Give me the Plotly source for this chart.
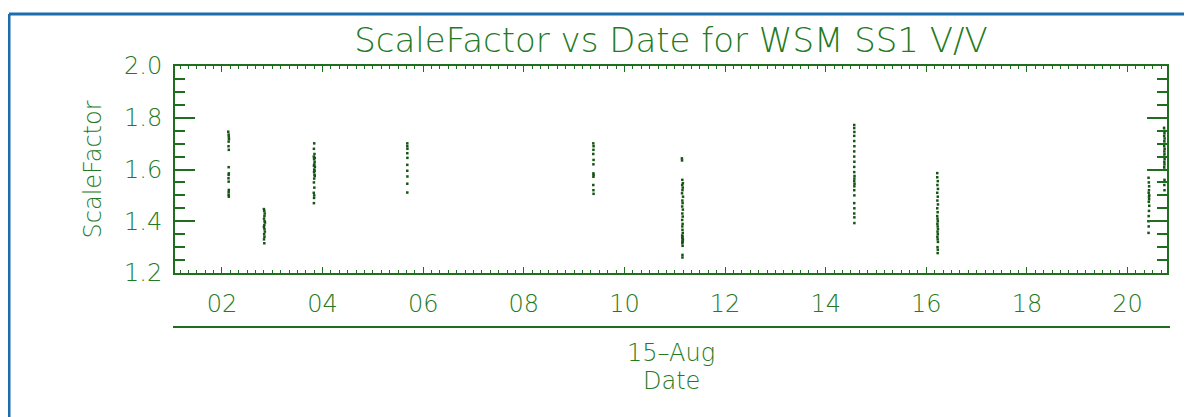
import plotly.graph_objects as go

DAY = "2002-08-15 "

# ---- data (time of day, scale factor) ----
a_times = ["02:07:30", "02:08:00", "02:08:10", "02:08:20", "02:08:00", "02:07:50", "02:08:10",
           "02:08:00", "02:08:10", "02:08:00", "02:07:50", "02:08:00", "02:08:10", "02:08:00", "02:08:00", "02:08:10"]
a_vals = [1.746, 1.735, 1.727, 1.718, 1.708, 1.690, 1.676, 1.609, 1.585, 1.579, 1.566, 1.553, 1.521, 1.512, 1.502, 1.495]

b_times = ["02:50:00", "02:50:30", "02:51:00", "02:50:40", "02:50:10", "02:50:50", "02:51:20", "02:50:30",
           "02:50:00", "02:50:40", "02:51:10", "02:50:20", "02:50:40", "02:50:10", "02:50:30"]
b_vals = [1.447, 1.440, 1.430, 1.420, 1.410, 1.400, 1.395, 1.385, 1.378, 1.370, 1.360, 1.350, 1.340, 1.330, 1.315]

c_times = ["03:50:00", "03:49:40", "03:50:20", "03:49:30", "03:50:40", "03:49:50", "03:50:30", "03:50:10",
           "03:49:40", "03:50:50", "03:50:00", "03:50:30", "03:49:50", "03:50:20", "03:50:40", "03:50:00",
           "03:49:40", "03:50:10", "03:49:30", "03:50:00", "03:49:50", "03:49:40"]
c_vals = [1.701, 1.680, 1.660, 1.650, 1.645, 1.640, 1.630, 1.620, 1.615, 1.610, 1.600, 1.595, 1.590,
          1.580, 1.575, 1.565, 1.550, 1.530, 1.510, 1.500, 1.490, 1.470]

d_times = ["05:41:00", "05:41:00", "05:41:10", "05:41:00", "05:41:10", "05:41:00", "05:41:00", "05:41:10",
           "05:41:00", "05:41:00"]
d_vals = [1.701, 1.690, 1.680, 1.663, 1.645, 1.618, 1.595, 1.573, 1.545, 1.511]

e_times = ["09:22:50", "09:23:10", "09:23:00", "09:22:50", "09:23:10", "09:23:00", "09:23:00", "09:23:10",
           "09:23:00", "09:22:50", "09:23:00", "09:23:10"]
e_vals = [1.701, 1.690, 1.676, 1.660, 1.637, 1.620, 1.585, 1.579, 1.572, 1.540, 1.520, 1.506]

f_times = ["11:08:30", "11:08:40", "11:09:00", "11:09:40", "11:08:50", "11:09:30", "11:09:10", "11:08:40",
           "11:09:50", "11:09:00", "11:09:20", "11:08:50", "11:09:40", "11:09:00", "11:09:30", "11:08:50",
           "11:09:20", "11:09:00", "11:09:10", "11:09:30", "11:08:50", "11:09:20", "11:09:00", "11:09:40",
           "11:09:10", "11:09:30", "11:09:00", "11:09:20", "11:09:10", "11:09:10"]
f_vals = [1.643, 1.635, 1.560, 1.547, 1.540, 1.530, 1.520, 1.508, 1.495, 1.480, 1.470, 1.457, 1.445,
          1.430, 1.418, 1.405, 1.390, 1.380, 1.367, 1.355, 1.345, 1.341, 1.335, 1.330, 1.325, 1.320,
          1.315, 1.305, 1.270, 1.260]

g_times = ["14:34:00", "14:34:00", "14:34:10", "14:34:00", "14:34:00", "14:34:10", "14:34:00", "14:34:00",
           "14:34:10", "14:34:00", "14:34:00", "14:34:20", "14:34:10", "14:34:00", "14:34:20", "14:34:10",
           "14:34:00", "14:34:10", "14:34:00", "14:34:10", "14:34:00", "14:34:10", "14:34:10"]
g_vals = [1.772, 1.760, 1.745, 1.730, 1.710, 1.690, 1.670, 1.650, 1.630, 1.610, 1.590, 1.575, 1.565,
          1.555, 1.545, 1.535, 1.520, 1.500, 1.470, 1.450, 1.430, 1.415, 1.393]

h_times = ["16:13:00", "16:13:00", "16:13:40", "16:13:10", "16:13:50", "16:13:00", "16:13:40", "16:13:10",
           "16:13:50", "16:13:00", "16:13:30", "16:13:00", "16:13:20", "16:13:40", "16:13:10", "16:13:30",
           "16:13:50", "16:13:20", "16:13:40", "16:13:10", "16:13:30", "16:13:50", "16:13:20", "16:13:40",
           "16:13:30"]
h_vals = [1.586, 1.570, 1.555, 1.540, 1.525, 1.510, 1.495, 1.480, 1.465, 1.450, 1.435, 1.420, 1.410,
          1.400, 1.390, 1.380, 1.370, 1.360, 1.350, 1.340, 1.330, 1.320, 1.300, 1.290, 1.277]

i_times = ["20:25:00", "20:25:20", "20:25:40", "20:25:30", "20:25:10", "20:25:50", "20:25:30", "20:25:40",
           "20:25:20", "20:25:50", "20:25:30", "20:25:10", "20:25:00", "20:25:10", "20:25:00"]
i_vals = [1.568, 1.550, 1.535, 1.520, 1.510, 1.500, 1.495, 1.485, 1.475, 1.460, 1.440, 1.420, 1.400, 1.380, 1.355]

j_times = ["20:43:30", "20:43:50", "20:44:00", "20:43:40", "20:44:10", "20:43:50", "20:44:00", "20:43:40",
           "20:44:10", "20:43:50", "20:44:00", "20:43:40", "20:44:10", "20:43:50", "20:44:00", "20:43:40",
           "20:43:50", "20:44:00", "20:43:50", "20:44:00"]
j_vals = [1.761, 1.750, 1.740, 1.730, 1.720, 1.710, 1.700, 1.690, 1.680, 1.670, 1.660, 1.650, 1.640,
          1.630, 1.620, 1.610, 1.600, 1.560, 1.540, 1.520]

x_range = ["2002-08-15 01:04", "2002-08-15 20:47"]
y_range = [1.2, 2.0]
y_tickvals = [1.2, 1.4, 1.6, 1.8, 2.0]

title_text = "ScaleFactor vs Date for WSM SS1 V/V"
y_title = "ScaleFactor"
date_label = "15\u2013Aug"
x_title = "Date"

# ---- styling ----
OFF = 8                      # page body margin in the browser
W, H = 1192 - OFF, 417 - OFF
# plot frame, in reference-picture pixels
L, R, T, B = 175 - OFF, 1167 - OFF, 66 - OFF, 273 - OFF
TXT = "#237a23"
LINE = "#1f6e1f"
DOT = "#145414"
BLUE = "#1c6cae"
FONT = "DejaVu Sans"


def px_x(px):
    """reference-picture x pixel -> paper coordinate"""
    return (px - OFF - L) / (R - L)


def px_y(py):
    """reference-picture y pixel -> paper coordinate"""
    return (B - (py - OFF)) / (B - T)


all_times = a_times + b_times + c_times + d_times + e_times + f_times + g_times + h_times + i_times + j_times
all_vals = a_vals + b_vals + c_vals + d_vals + e_vals + f_vals + g_vals + h_vals + i_vals + j_vals
xs = [DAY + t for t in all_times]

fig = go.Figure()
fig.add_trace(go.Scatter(
    x=xs, y=all_vals, mode="markers",
    marker=dict(symbol="square", size=2.5, color=DOT, line=dict(width=0)),
    showlegend=False, hoverinfo="x+y",
))

axis_common = dict(
    showline=True, linecolor=LINE, linewidth=2, mirror="allticks",
    ticks="inside", tickcolor=LINE, showgrid=False, zeroline=False,
    tickfont=dict(family=FONT, size=24, color=TXT, weight=200),
)

fig.update_xaxes(
    type="date", range=x_range, tickformat="%H",
    tick0="2002-08-15 00:00", dtick=2 * 3600 * 1000,
    ticklen=6, tickwidth=1, ticklabelstandoff=8,
    minor=dict(dtick=10 * 60 * 1000, ticks="inside", ticklen=3, tickcolor=LINE, tickwidth=1, showgrid=False),
    **axis_common,
)
fig.update_yaxes(
    range=y_range, tickvals=y_tickvals, tickformat=".1f",
    ticklen=20, tickwidth=1.5, ticklabelstandoff=6,
    minor=dict(dtick=0.05, tick0=1.2, ticks="inside", ticklen=10, tickcolor=LINE, tickwidth=1.5, showgrid=False),
    **axis_common,
)

shapes = [
    # blue page border (top and left)
    dict(type="line", xref="paper", yref="paper", x0=px_x(9), x1=px_x(1200), y0=px_y(14), y1=px_y(14),
         line=dict(color=BLUE, width=3)),
    dict(type="line", xref="paper", yref="paper", x0=px_x(9), x1=px_x(9), y0=px_y(14), y1=px_y(425),
         line=dict(color=BLUE, width=3)),
    # separator line under hour labels
    dict(type="line", xref="paper", yref="paper", x0=px_x(173), x1=px_x(1170), y0=px_y(327), y1=px_y(327),
         line=dict(color=LINE, width=2)),
]

annotations = [
    dict(text=y_title, xref="paper", yref="paper", x=px_x(92), y=0.5, textangle=-90,
         showarrow=False, font=dict(family=FONT, size=24, color=TXT, weight=200),
         xanchor="center", yanchor="middle"),
    dict(text=date_label, xref="paper", yref="paper", x=0.5, y=px_y(353), showarrow=False,
         font=dict(family=FONT, size=24, color=TXT, weight=200), xanchor="center", yanchor="middle"),
    dict(text=x_title, xref="paper", yref="paper", x=0.5, y=px_y(381), showarrow=False,
         font=dict(family=FONT, size=24, color=TXT, weight=200), xanchor="center", yanchor="middle"),
]

fig.update_layout(
    width=W, height=H,
    margin=dict(l=L, r=W - R, t=T, b=H - B, autoexpand=False),
    paper_bgcolor="white", plot_bgcolor="white",
    title=dict(text=title_text, x=0.5, xref="paper", xanchor="center",
               y=1 - (40 - OFF) / H, yref="container", yanchor="middle",
               font=dict(family=FONT, size=34, color=TXT, weight=200)),
    shapes=shapes, annotations=annotations,
)

fig.write_html("out.html")
